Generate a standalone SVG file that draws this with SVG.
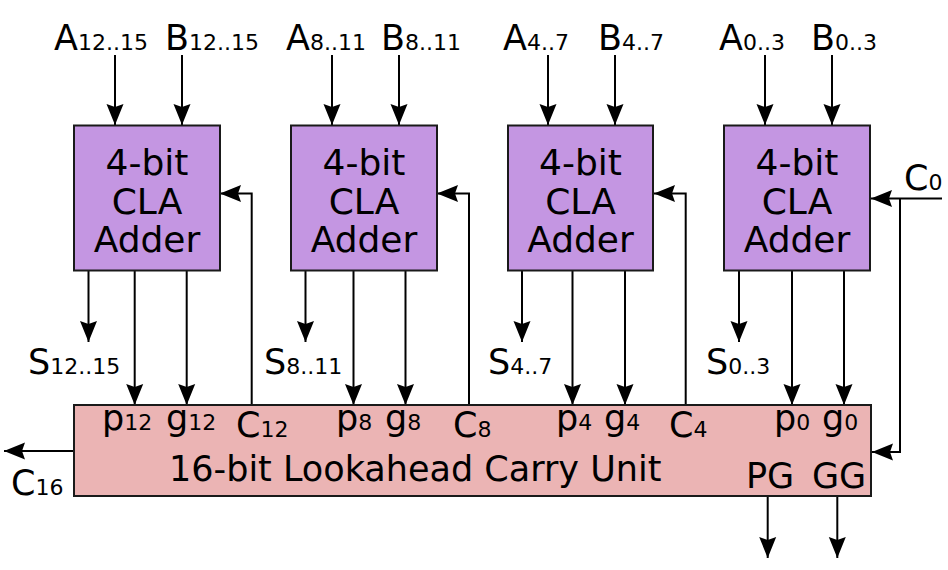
<svg xmlns="http://www.w3.org/2000/svg" width="948" height="570" viewBox="0 0 948 570">
<defs>
<marker id="ah" markerUnits="userSpaceOnUse" markerWidth="24" markerHeight="20" refX="0" refY="0" viewBox="-22 -10 24 20" orient="auto">
<path d="M0,0 L-21,-8.5 L-18,0 L-21,8.5 Z" fill="#000"/>
</marker>
<style>
.adder{fill:#C496E2;stroke:#1a1a1a;stroke-width:2}
.lcu{fill:#EBB4B4;stroke:#1a1a1a;stroke-width:2}
.w{fill:none;stroke:#000;stroke-width:2;marker-end:url(#ah)}
text{font-family:"DejaVu Sans","Liberation Sans",sans-serif;fill:#000}
.big{font-size:35px}
.sub{font-size:22px}
.bt{font-size:36px;text-anchor:middle}
</style>
</defs>
<rect width="948" height="570" fill="#fff"/>

<g id="connectors">
<path class="w" d="M115,55 V125"/>
<path class="w" d="M182,55 V125"/>
<path class="w" d="M332,55 V125"/>
<path class="w" d="M399,55 V125"/>
<path class="w" d="M548,55 V125"/>
<path class="w" d="M615,55 V125"/>
<path class="w" d="M765,55 V125"/>
<path class="w" d="M832,55 V125"/>
<path class="w" d="M88.5,271 V342"/>
<path class="w" d="M305.5,271 V342"/>
<path class="w" d="M522,271 V342"/>
<path class="w" d="M739,271 V342"/>
<path class="w" d="M134.7,271 V405"/>
<path class="w" d="M186.7,271 V405"/>
<path class="w" d="M353.5,271 V405"/>
<path class="w" d="M405.5,271 V405"/>
<path class="w" d="M572.5,271 V405"/>
<path class="w" d="M625,271 V405"/>
<path class="w" d="M792,271 V405"/>
<path class="w" d="M844,271 V405"/>
<path class="w" d="M251.7,404 V193.5 H220"/>
<path class="w" d="M469,404 V193.5 H437"/>
<path class="w" d="M685.7,404 V193.5 H654"/>
<path class="w" d="M942,198.5 H871"/>
<path class="w" d="M900,198.5 V452 H872"/>
<path class="w" d="M74,451 H4"/>
<path class="w" d="M767.7,497 V558"/>
<path class="w" d="M837.3,497 V558"/>
</g>

<g id="adder3">
<rect class="adder" x="74" y="125.5" width="146" height="145"/>
<text class="bt" x="147" y="175">4-bit</text>
<text class="bt" x="147" y="213.5">CLA</text>
<text class="bt" x="147" y="252">Adder</text>
</g>
<g id="adder2">
<rect class="adder" x="291" y="125.5" width="146" height="145"/>
<text class="bt" x="364" y="175">4-bit</text>
<text class="bt" x="364" y="213.5">CLA</text>
<text class="bt" x="364" y="252">Adder</text>
</g>
<g id="adder1">
<rect class="adder" x="508" y="125.5" width="145" height="145"/>
<text class="bt" x="580.5" y="175">4-bit</text>
<text class="bt" x="580.5" y="213.5">CLA</text>
<text class="bt" x="580.5" y="252">Adder</text>
</g>
<g id="adder0">
<rect class="adder" x="724" y="125.5" width="146" height="145"/>
<text class="bt" x="797" y="175">4-bit</text>
<text class="bt" x="797" y="213.5">CLA</text>
<text class="bt" x="797" y="252">Adder</text>
</g>

<g id="lcu">
<rect class="lcu" x="74" y="405" width="797" height="91"/>
<text x="169" y="481" style="font-size:35px">16-bit Lookahead Carry Unit</text>
<text x="102" y="430"><tspan class="big">p</tspan><tspan class="sub">12</tspan></text>
<text x="166" y="430"><tspan class="big">g</tspan><tspan class="sub">12</tspan></text>
<text x="236" y="437"><tspan class="big">C</tspan><tspan class="sub">12</tspan></text>
<text x="336" y="430"><tspan class="big">p</tspan><tspan class="sub">8</tspan></text>
<text x="385" y="430"><tspan class="big">g</tspan><tspan class="sub">8</tspan></text>
<text x="453" y="437"><tspan class="big">C</tspan><tspan class="sub">8</tspan></text>
<text x="556" y="430"><tspan class="big">p</tspan><tspan class="sub">4</tspan></text>
<text x="604" y="430"><tspan class="big">g</tspan><tspan class="sub">4</tspan></text>
<text x="669" y="437"><tspan class="big">C</tspan><tspan class="sub">4</tspan></text>
<text x="774" y="430"><tspan class="big">p</tspan><tspan class="sub">0</tspan></text>
<text x="822" y="430"><tspan class="big">g</tspan><tspan class="sub">0</tspan></text>
<text x="746" y="488" class="big">PG</text>
<text x="812" y="488" class="big">GG</text>
</g>

<g id="labels">
<text x="54" y="50"><tspan class="big">A</tspan><tspan class="sub">12..15</tspan></text>
<text x="165" y="50"><tspan class="big">B</tspan><tspan class="sub">12..15</tspan></text>
<text x="286" y="50"><tspan class="big">A</tspan><tspan class="sub">8..11</tspan></text>
<text x="381" y="50"><tspan class="big">B</tspan><tspan class="sub">8..11</tspan></text>
<text x="503" y="50"><tspan class="big">A</tspan><tspan class="sub">4..7</tspan></text>
<text x="598" y="50"><tspan class="big">B</tspan><tspan class="sub">4..7</tspan></text>
<text x="719" y="50"><tspan class="big">A</tspan><tspan class="sub">0..3</tspan></text>
<text x="811" y="50"><tspan class="big">B</tspan><tspan class="sub">0..3</tspan></text>
<text x="28" y="374"><tspan class="big">S</tspan><tspan class="sub">12..15</tspan></text>
<text x="264" y="374"><tspan class="big">S</tspan><tspan class="sub">8..11</tspan></text>
<text x="488" y="374"><tspan class="big">S</tspan><tspan class="sub">4..7</tspan></text>
<text x="706" y="374"><tspan class="big">S</tspan><tspan class="sub">0..3</tspan></text>
<text x="904" y="190"><tspan class="big">C</tspan><tspan class="sub">0</tspan></text>
<text x="11" y="495"><tspan class="big">C</tspan><tspan class="sub">16</tspan></text>
</g>
</svg>
